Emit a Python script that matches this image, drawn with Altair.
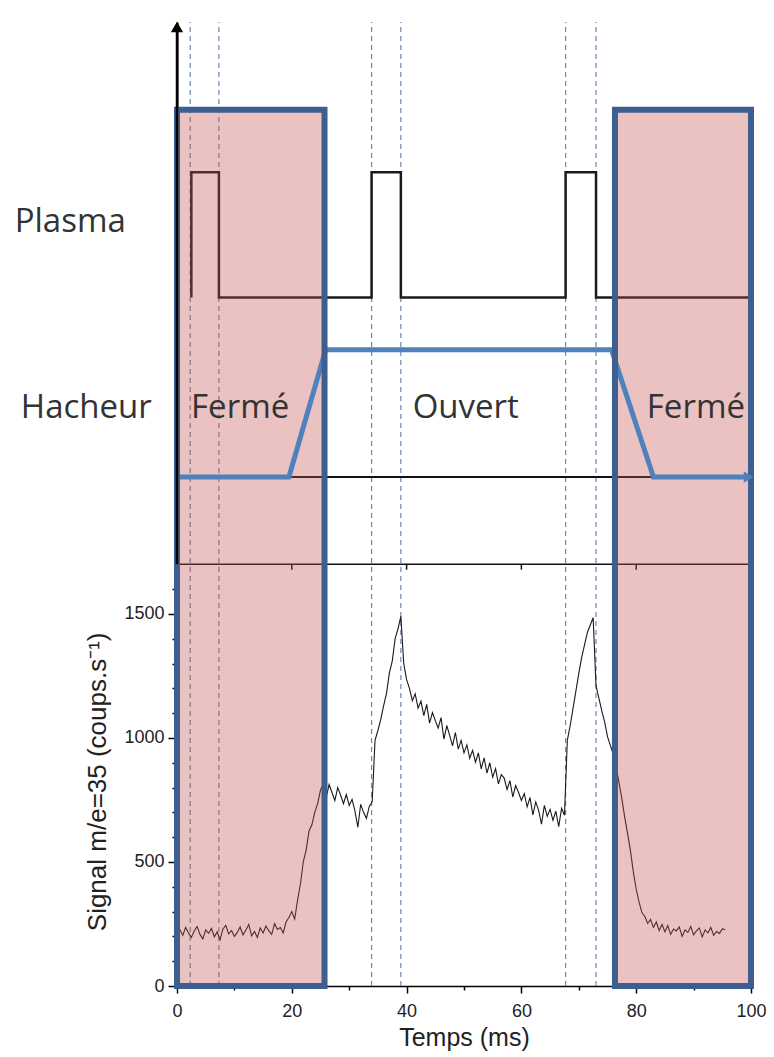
import altair as alt
import pandas as pd

# ---------------- data ----------------
# measured signal m/e=35 (time in ms, counts/s)
signal_t = [
    0.5, 1.0, 1.5, 2.0, 2.5, 3.0, 3.5, 4.0, 4.5, 5.0,
    5.5, 6.0, 6.5, 7.0, 7.5, 8.0, 8.5, 9.0, 9.5, 10.0,
    10.5, 11.0, 11.5, 12.0, 12.5, 13.0, 13.5, 14.0, 14.5, 15.0,
    15.5, 16.0, 16.5, 17.0, 17.5, 18.0, 18.5, 19.0, 19.5, 20.0,
    20.5, 21.0, 21.5, 22.0, 22.5, 23.0, 23.5, 24.0, 24.5, 25.0,
    25.5, 26.0, 26.5, 27.0, 27.5, 28.0, 28.5, 29.0, 29.5, 30.0,
    30.5, 31.0, 31.5, 32.0, 32.5, 33.0, 33.5, 34.0, 34.5, 35.0,
    35.5, 36.0, 36.5, 37.0, 37.5, 38.0, 38.5, 39.0, 39.5, 40.0,
    40.5, 41.0, 41.5, 42.0, 42.5, 43.0, 43.5, 44.0, 44.5, 45.0,
    45.5, 46.0, 46.5, 47.0, 47.5, 48.0, 48.5, 49.0, 49.5, 50.0,
    50.5, 51.0, 51.5, 52.0, 52.5, 53.0, 53.5, 54.0, 54.5, 55.0,
    55.5, 56.0, 56.5, 57.0, 57.5, 58.0, 58.5, 59.0, 59.5, 60.0,
    60.5, 61.0, 61.5, 62.0, 62.5, 63.0, 63.5, 64.0, 64.5, 65.0,
    65.5, 66.0, 66.5, 67.0, 67.5, 68.0, 68.5, 69.0, 69.5, 70.0,
    70.5, 71.0, 71.5, 72.0, 72.5, 73.0, 73.5, 74.0, 74.5, 75.0,
    75.5, 76.0, 76.5, 77.0, 77.5, 78.0, 78.5, 79.0, 79.5, 80.0,
    80.5, 81.0, 81.5, 82.0, 82.5, 83.0, 83.5, 84.0, 84.5, 85.0,
    85.5, 86.0, 86.5, 87.0, 87.5, 88.0, 88.5, 89.0, 89.5, 90.0,
    90.5, 91.0, 91.5, 92.0, 92.5, 93.0, 93.5, 94.0, 94.5, 95.0,
    95.5,
]
signal_v = [
    228, 204, 236, 214, 196, 222, 240, 208, 190, 226,
    212, 232, 198, 218, 186, 230, 244, 210, 224, 200,
    216, 238, 206, 226, 248, 202, 220, 196, 234, 214,
    242, 222, 208, 252, 228, 236, 214, 258, 276, 300,
    270, 345, 410, 500, 548, 625, 650, 700, 735, 790,
    815, 760, 812, 780, 748, 800, 770, 735, 772, 728,
    752, 706, 640, 732, 700, 676, 724, 742, 990, 1030,
    1075, 1130, 1180, 1262, 1310, 1400, 1440, 1490, 1300, 1235,
    1200, 1150, 1178, 1120, 1148, 1090, 1135, 1060, 1102, 1070,
    1040, 1082, 995, 1050, 1010, 968, 1022, 955, 990, 940,
    972, 918, 950, 902, 940, 875, 920, 858, 900, 842,
    876, 815, 852, 838, 792, 828, 762, 808, 780, 748,
    776, 722, 760, 690, 742, 708, 652, 728, 684, 712,
    668, 705, 642, 716, 688, 990, 1050, 1120, 1190, 1260,
    1325, 1375, 1425, 1455, 1485, 1210, 1160, 1110, 1065, 1005,
    970, 935, 885, 820, 755, 680, 615, 545, 460, 390,
    338, 296, 280, 252, 268, 236, 258, 224, 248, 218,
    244, 208, 230, 222, 238, 200, 226, 216, 240, 206,
    222, 234, 198, 226, 214, 236, 204, 220, 212, 230,
    228,
]

# plasma pulses (time, state 0 = off / 1 = on)
plasma_t = [2.5, 2.5, 7.3, 7.3, 33.9, 33.9, 39.0, 39.0, 67.7, 67.7, 73.0, 73.0, 100.0]
plasma_state = [0, 1, 1, 0, 0, 1, 1, 0, 0, 1, 1, 0, 0]

# chopper ("hacheur") opening (time, state 0 = closed / 1 = open)
hacheur_t = [0.0, 19.5, 25.9, 75.7, 83.0, 100.0]
hacheur_state = [0, 0, 1, 1, 0, 0]

# dashed markers (plasma edges)
marker_t = [2.3, 7.3, 33.9, 39.0, 67.7, 73.0]

# closed chopper zones
closed_start = [0.0, 76.3]
closed_end = [25.7, 100.0]

x_ticks = [0, 10, 20, 30, 40, 50, 60, 70, 80, 90, 100]
y_ticks = [0, 100, 200, 300, 400, 500, 600, 700, 800, 900, 1000,
           1100, 1200, 1300, 1400, 1500, 1600]

# ---------------- layout (diagram levels in y-scale units) ----------------
Y_MAX = 3886
ARROW_Y = 3866
SIGNAL_TOP = 1700
PLASMA_LOW, PLASMA_HIGH = 2775, 3280
HACH_LOW, HACH_HIGH = 2052, 2565
ZONE_TOP = 3532
TEXT_Y = 2331

sig_df = pd.DataFrame({"t": signal_t, "v": signal_v})
plasma_df = pd.DataFrame({
    "t": plasma_t,
    "v": [PLASMA_HIGH if s else PLASMA_LOW for s in plasma_state],
    "i": list(range(len(plasma_t))),
})
hach_df = pd.DataFrame({
    "t": hacheur_t,
    "v": [HACH_HIGH if s else HACH_LOW for s in hacheur_state],
    "i": list(range(len(hacheur_t))),
})
marker_df = pd.DataFrame({"t": marker_t, "v": [0] * len(marker_t), "v2": [Y_MAX] * len(marker_t)})
zone_df = pd.DataFrame({"t": closed_start, "t2": closed_end,
                        "v": [0, 0], "v2": [ZONE_TOP, ZONE_TOP]})
frame_df = pd.DataFrame({"t": [0], "t2": [100], "v": [SIGNAL_TOP]})
frame_ticks_df = pd.DataFrame({"t": [20, 40, 60, 80], "v": [SIGNAL_TOP] * 4,
                               "v2": [SIGNAL_TOP - 22] * 4})
hbase_df = pd.DataFrame({"t": [0], "t2": [100], "v": [HACH_LOW]})
yarrow_line_df = pd.DataFrame({"t": [0], "v": [SIGNAL_TOP], "v2": [ARROW_Y]})
yarrow_df = pd.DataFrame({"t": [0], "v": [ARROW_Y]})
harrow_df = pd.DataFrame({"t": [99.6], "v": [HACH_LOW]})

labels_df = pd.DataFrame({
    "text": ["Plasma", "Hacheur", "Fermé", "Ouvert", "Fermé"],
    "t": [-18.6, -15.8, 11.0, 50.3, 90.4],
    "v": [3081, TEXT_Y, TEXT_Y, TEXT_Y, TEXT_Y],
})
ytitle_df = pd.DataFrame({"text": ["Signal m/e=35 (coups.s⁻¹)"], "t": [-13.7], "v": [823]})

# ---------------- scales / axes ----------------
xs = alt.Scale(domain=[0, 100], nice=False, zero=False)
ys = alt.Scale(domain=[0, Y_MAX], nice=False, zero=False)

x_axis = alt.Axis(
    values=x_ticks,
    labelExpr="datum.value % 20 === 0 ? datum.label : ''",
    tickSize={"condition": {"test": "datum.value % 20 === 0", "value": 7}, "value": 4},
    title="Temps (ms)", grid=False, domainColor="black", domainWidth=1.5,
    tickColor="black", tickWidth=1.5, labelFont="Liberation Sans", labelFontSize=18,
    labelColor="#222222", labelPadding=9, labelFlush=False,
    titleFont="Liberation Sans", titleFontSize=25, titleFontWeight="normal",
    titleColor="#222222", titlePadding=5,
)
y_axis = alt.Axis(
    values=y_ticks, format="d",
    labelExpr="datum.value % 500 === 0 ? datum.label : ''",
    tickSize={"condition": {"test": "datum.value % 500 === 0", "value": 9}, "value": 5},
    title=None, grid=False, domainColor="black", domainWidth=2,
    tickColor="black", tickWidth=1.5, labelFont="Liberation Sans", labelFontSize=18,
    labelColor="#222222", labelPadding=4, labelFlush=False,
)


def X(field="t"):
    return alt.X(f"{field}:Q", scale=xs, axis=x_axis)


def Y(field="v"):
    return alt.Y(f"{field}:Q", scale=ys, axis=y_axis)


markers = alt.Chart(marker_df).mark_rule(
    color="#6A86B4", strokeWidth=1.2, strokeDash=[5, 4]
).encode(x=X(), y=Y(), y2="v2:Q")

plasma = alt.Chart(plasma_df).mark_line(color="#1a1a1a", strokeWidth=2.5).encode(
    x=X(), y=Y(), order="i:Q")

hbase = alt.Chart(hbase_df).mark_rule(color="#111111", strokeWidth=2).encode(
    x=X(), x2="t2:Q", y=Y())

frame = alt.Chart(frame_df).mark_rule(color="#111111", strokeWidth=1.5).encode(
    x=X(), x2="t2:Q", y=Y())
frame_ticks = alt.Chart(frame_ticks_df).mark_rule(color="#111111", strokeWidth=1.5).encode(
    x=X(), y=Y(), y2="v2:Q")

signal = alt.Chart(sig_df).mark_line(color="#1a1a1a", strokeWidth=1.1).encode(
    x=X(), y=Y())

zones = alt.Chart(zone_df).mark_rect(color="#C0504D", opacity=0.35).encode(
    x=X(), x2="t2:Q", y=Y(), y2="v2:Q")

hacheur = alt.Chart(hach_df).mark_line(color="#4F81BD", strokeWidth=5).encode(
    x=X(), y=Y(), order="i:Q")

zone_border = alt.Chart(zone_df).mark_rect(
    fillOpacity=0, stroke="#3D5F8F", strokeWidth=6
).encode(x=X(), x2="t2:Q", y=Y(), y2="v2:Q")

yline = alt.Chart(yarrow_line_df).mark_rule(color="black", strokeWidth=2.5).encode(
    x=X(), y=Y(), y2="v2:Q")
yarrow = alt.Chart(yarrow_df).mark_point(
    shape="triangle-up", filled=True, size=150, color="black", opacity=1
).encode(x=X(), y=Y())
harrow = alt.Chart(harrow_df).mark_point(
    shape="triangle-right", filled=True, size=130, color="#4F81BD", opacity=1
).encode(x=X(), y=Y())

labels = alt.Chart(labels_df).mark_text(
    font="Open Sans", fontSize=33, color="#333333", align="center", baseline="middle"
).encode(x=X(), y=Y(), text="text:N")

ytitle = alt.Chart(ytitle_df).mark_text(
    font="Liberation Sans", fontSize=26, color="#222222", align="center",
    baseline="middle", angle=270
).encode(x=X(), y=Y(), text="text:N")

chart = alt.layer(
    markers, plasma, hbase, frame, frame_ticks, signal, zones, hacheur,
    zone_border, yline, yarrow, harrow, labels, ytitle
).properties(
    width=574, height=964,
    padding={"left": 169, "top": 14, "right": 15, "bottom": 70},
    autosize=alt.AutoSizeParams(type="none"),
).configure_view(stroke=None)

chart.save("out.html", embed_options={"renderer": "svg", "actions": False})
